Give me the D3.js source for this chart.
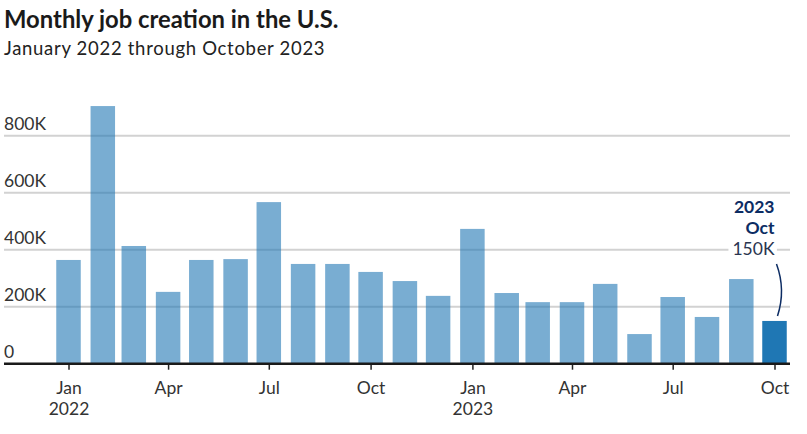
<!DOCTYPE html>
<html>
<head>
<meta charset="utf-8">
<script src="https://cdn.jsdelivr.net/npm/d3@7"></script>
<style>
  html, body { margin: 0; padding: 0; background: #fff; }
  svg { display: block; font-family: Lato, "Open Sans", sans-serif; }
</style>
</head>
<body>
<svg id="chart" width="807" height="434"></svg>
<script>
// ---- data ----
const months = [
  "2022-01","2022-02","2022-03","2022-04","2022-05","2022-06",
  "2022-07","2022-08","2022-09","2022-10","2022-11","2022-12",
  "2023-01","2023-02","2023-03","2023-04","2023-05","2023-06",
  "2023-07","2023-08","2023-09","2023-10"
];
const jobs = [
  364, 904, 413, 252, 364, 367,
  567, 350, 350, 322, 290, 238,
  473, 248, 216, 216, 280, 104,
  234, 164, 297, 150
]; // thousands
const yTicks = [0, 200, 400, 600, 800];
const xTickMonths = ["2022-01","2022-04","2022-07","2022-10","2023-01","2023-04","2023-07","2023-10"];
const monthNames = ["Jan","Feb","Mar","Apr","May","Jun","Jul","Aug","Sep","Oct","Nov","Dec"];
const titleText = "Monthly job creation in the U.S.";
const subtitleText = "January 2022 through October 2023";

// ---- setup ----
const parse = s => { const [y, m] = s.split("-").map(Number); return new Date(y, m - 1, 15); };
const data = months.map((m, i) => ({ date: parse(m), value: jobs[i] }));
const last = data[data.length - 1];

const svg = d3.select("#chart");
const x = d3.scaleTime()
  .domain([parse(months[0]), parse(months[months.length - 1])])
  .range([68.5, 774.5]);
const y = d3.scaleLinear().domain([0, 800]).range([363.7, 135.7]);
const barW = 24.5;
const gridLeft = 4, gridRight = 790;

// title
svg.append("text").attr("x", 4).attr("y", 27.5)
  .attr("font-size", 23.8).attr("font-weight", 700).attr("fill", "#1a1a1a")
  .text(titleText);
svg.append("text").attr("x", 4).attr("y", 55)
  .attr("font-size", 18.5).attr("letter-spacing", 0.7).attr("fill", "#222")
  .text(subtitleText);

// gridlines
const grid = svg.append("g");
grid.selectAll("line").data(yTicks.filter(d => d > 0)).join("line")
  .attr("x1", gridLeft).attr("x2", gridRight)
  .attr("y1", d => y(d)).attr("y2", d => y(d))
  .attr("stroke", "#d2d2d2").attr("stroke-width", 2);

// y labels
svg.append("g").selectAll("text").data(yTicks).join("text")
  .attr("x", 4).attr("y", d => y(d) - 5.5)
  .attr("font-size", 17.5).attr("fill", "#333")
  .text(d => d === 0 ? "0" : d + "K");

// bars
svg.append("g").selectAll("rect").data(data).join("rect")
  .attr("x", d => x(d.date) - barW / 2)
  .attr("width", barW)
  .attr("y", d => y(d.value))
  .attr("height", d => y(0) - y(d.value))
  .attr("fill", "#1f77b4")
  .attr("fill-opacity", d => d === last ? 1 : 0.6);

// x axis
const xAxis = d3.axisBottom(x)
  .tickValues(xTickMonths.map(parse))
  .tickSize(6)
  .tickSizeOuter(0)
  .tickFormat(d => monthNames[d.getMonth()]);
const gx = svg.append("g").attr("transform", `translate(0,${y(0)})`).call(xAxis);
gx.select(".domain").remove();
gx.selectAll(".tick line").attr("stroke", "#222").attr("stroke-width", 1.5);
gx.selectAll(".tick text")
  .attr("font-family", "Lato, sans-serif")
  .attr("font-size", 17.5).attr("fill", "#333")
  .attr("y", 0).attr("dy", null)
  .attr("transform", null)
  .each(function(d) {
    const t = d3.select(this);
    t.text(null);
    t.append("tspan").attr("x", 0).attr("y", 30.3).text(monthNames[d.getMonth()]);
    if (d.getMonth() === 0) {
      t.append("tspan").attr("x", 0).attr("y", 51.3).text(d.getFullYear());
    }
  });
svg.append("line")
  .attr("x1", gridLeft).attr("x2", gridRight)
  .attr("y1", y(0)).attr("y2", y(0))
  .attr("stroke", "#1a1a1a").attr("stroke-width", 2.5);

// annotation
const ax = x(last.date);
const ann = svg.append("g").attr("fill", "#0c2c63").attr("text-anchor", "end");
ann.append("text").attr("x", ax).attr("y", 213.3)
  .attr("font-size", 17.5).attr("font-weight", 700).text(last.date.getFullYear());
ann.append("text").attr("x", ax).attr("y", 234.3)
  .attr("font-size", 17.5).attr("font-weight", 700).text(monthNames[last.date.getMonth()]);
const valBg = ann.append("rect").attr("fill", "#fff");
const valText = ann.append("text").attr("x", ax).attr("y", 255)
  .attr("font-size", 17.5).attr("fill", "#2a3550").text(last.value + "K");
const bb = valText.node().getBBox();
valBg.attr("x", bb.x - 4).attr("y", bb.y + 2).attr("width", bb.width + 6).attr("height", bb.height - 4);

const y0 = 264, y1 = y(last.value) - 5;
svg.append("path")
  .attr("d", `M${ax + 2},${y0} Q${ax + 11.5},${(y0 + y1) / 2} ${ax + 3},${y1}`)
  .attr("fill", "none").attr("stroke", "#0c2c63").attr("stroke-width", 1.5);
</script>
</body>
</html>
